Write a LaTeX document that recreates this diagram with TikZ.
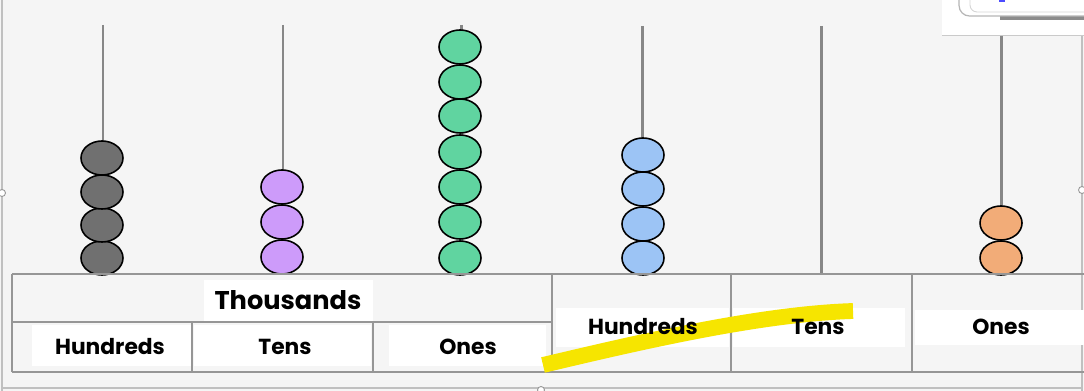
\documentclass[tikz,border=0pt]{standalone}
\usepackage{fontspec}
\setmainfont{Poppins}
\definecolor{slidebg}{RGB}{245,245,245}
\definecolor{rodgray}{RGB}{135,135,135}
\definecolor{rulegray}{RGB}{150,150,150}
\definecolor{beadgray}{RGB}{112,112,112}
\definecolor{beadpurple}{RGB}{205,155,250}
\definecolor{beadgreen}{RGB}{96,212,160}
\definecolor{beadblue}{RGB}{156,196,245}
\definecolor{beadorange}{RGB}{242,172,120}
\definecolor{marker}{RGB}{246,229,0}
\begin{document}
\begin{tikzpicture}[x=0.02cm,y=-0.02cm,
  rod/.style={line width=1.7pt,draw=rodgray},
  bead/.style={draw=black,line width=0.9pt},
  rule/.style={line width=1.4pt,draw=rulegray},
  lbl/.style={font=\bfseries\fontsize{12.4}{14}\selectfont,inner sep=0pt}]
\useasboundingbox (0,0) rectangle (1084,391);
\fill[slidebg] (0,0) rectangle (1084,391);
% slide frame and handles
\draw[rulegray!60,line width=0.6pt] (2,0) -- (2,391);
\draw[rulegray!60,line width=0.6pt] (1082,36) -- (1082,391);
\draw[rulegray!60,line width=0.6pt] (2,388) -- (1082,388);
% top right window corner
\fill[white] (942,0) rectangle (1084,35);
\draw[rulegray!50,line width=0.5pt] (942,35) -- (1084,35);
\fill[black,opacity=0.45] (1000,16) rectangle (1084,20);
\draw[rulegray!70,line width=0.7pt,fill=white,rounded corners=6pt] (959,-10) -- (959,16) -- (1090,16);
\draw[rulegray!40,line width=0.5pt,rounded corners=4pt] (970,-10) -- (970,12) -- (1090,12);
\fill[blue!70] (999,0) rectangle (1005,2);
% rods
\foreach \x/\top in {103/25,283/25,461/25,642/26,821/26,1001/36}
  \draw[rod] (\x,\top) -- (\x,273);
% beads
\foreach \y in {258,225,192,158} \draw[bead,fill=beadgray] (102,\y) ellipse (21 and 17);
\foreach \y in {257,222,187} \draw[bead,fill=beadpurple] (282,\y) ellipse (21 and 17);
\foreach \y in {258,222,187,152,116,82,47} \draw[bead,fill=beadgreen] (460,\y) ellipse (21 and 17);
\foreach \y in {258,224,189,155} \draw[bead,fill=beadblue] (643,\y) ellipse (21 and 17);
\foreach \y in {258,223} \draw[bead,fill=beadorange] (1001,\y) ellipse (21 and 17);
% table
\draw[rule] (12,274) -- (1084,274);
\draw[rule] (12,372) -- (1084,372);
\draw[rule] (12,322) -- (552,322);
\foreach \x in {12,552,731,912} \draw[rule] (\x,274) -- (\x,372);
\foreach \x in {192,373} \draw[rule] (\x,322) -- (\x,372);
\foreach \a/\b/\c/\d in {204/280/373/321,32/325/191/366,194/325/371/366,389/325/546/366,
  556/308/729/347,733/308/905/347,915/310/1084/345}
  \fill[white] (\a,\b) rectangle (\c,\d);
% highlighter stroke
\draw[marker,line width=9pt] (543,365) .. controls (640,342) and (760,314) .. (853,311);
% labels
\node[lbl,font=\bfseries\fontsize{14.6}{16}\selectfont] (thousands) at (288,300) {Thousands};
\node[lbl] (thHundreds) at (110,347) {Hundreds};
\node[lbl] (thTens) at (285,347) {Tens};
\node[lbl] (thOnes) at (468,347) {Ones};
\node[lbl] (hundreds) at (643,327) {Hundreds};
\node[lbl] (tens) at (818,327) {Tens};
\node[lbl] (ones) at (1001,327) {Ones};
% handles
\foreach \p in {(2,193),(1082,190),(541,390)}
  \draw[rulegray,fill=white,line width=0.5pt] \p circle (3.5);
\end{tikzpicture}
\end{document}
